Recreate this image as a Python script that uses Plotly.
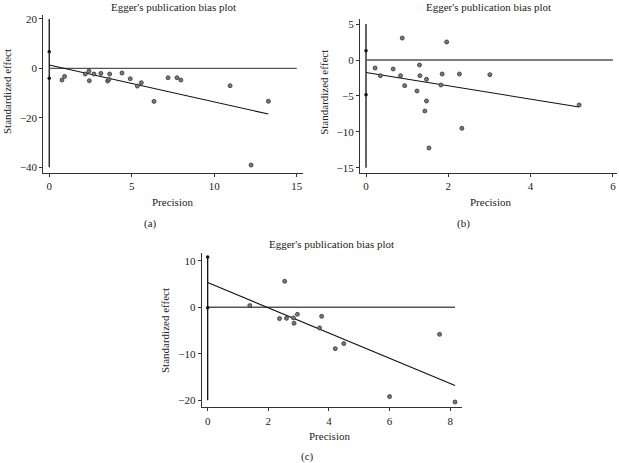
import plotly.graph_objects as go

# ---------------- data ----------------
a_prec = [0.77, 0.93, 2.18, 2.41, 2.43, 2.71, 3.13, 3.54, 3.62, 3.66, 4.41, 4.91, 5.34, 5.58, 6.35, 7.20, 7.74, 7.98, 10.96, 12.23, 13.28]
a_eff = [-4.72, -3.24, -2.29, -1.08, -4.99, -2.29, -2.02, -5.12, -4.45, -2.29, -1.89, -4.18, -7.15, -5.80, -13.35, -3.78, -3.78, -4.72, -7.0, -39.1, -13.3]
a_intercept, a_slope = 1.35, -1.493
a_ci = [-4.0, 6.7]
a_xticks = [0, 5, 10, 15]
a_yticks = [-40, -20, 0, 20]

b_prec = [0.22, 0.35, 0.66, 0.84, 0.88, 0.94, 1.24, 1.30, 1.31, 1.43, 1.47, 1.47, 1.53, 1.82, 1.85, 1.96, 2.27, 2.33, 3.01, 5.18]
b_eff = [-1.11, -2.18, -1.25, -2.18, 3.06, -3.57, -4.32, -0.70, -2.18, -7.10, -2.69, -5.71, -12.25, -3.48, -1.95, 2.51, -1.95, -9.51, -2.04, -6.26]
b_intercept, b_slope = -1.75, -0.925
b_ci = [-4.83, 1.3]
b_xticks = [0, 2, 4, 6]
b_yticks = [-15, -10, -5, 0, 5]

c_prec = [1.39, 2.37, 2.54, 2.60, 2.83, 2.85, 2.96, 3.69, 3.76, 4.21, 4.49, 6.00, 7.65, 8.16]
c_eff = [0.36, -2.44, 5.59, -2.37, -2.29, -3.44, -1.51, -4.44, -1.94, -8.89, -7.81, -19.2, -5.81, -20.36]
c_intercept, c_slope = 5.3, -2.71
c_ci = [-0.1, 10.8]
c_xticks = [0, 2, 4, 6, 8]
c_yticks = [-20, -10, 0, 10]

title_text = "Egger's publication bias plot"
xlab = "Precision"
ylab = "Standardized effect"
panel_labels = ["(a)", "(b)", "(c)"]

W, H = 619, 463
FONT = "Liberation Serif"

fig = go.Figure()

panels = [
    dict(prec=a_prec, eff=a_eff, b0=a_intercept, b1=a_slope, ci=a_ci, xt=a_xticks, yt=a_yticks,
         xr=[-0.36, 15.36], yr=[-42.2, 21.6], hline_end=15,
         dom_px=(43.3, 302.7, 15.0, 172.7), xa="x", ya="y"),
    dict(prec=b_prec, eff=b_eff, b0=b_intercept, b1=b_slope, ci=b_ci, xt=b_xticks, yt=b_yticks,
         xr=[-0.146, 6.1], yr=[-15.7, 5.67], hline_end=6,
         dom_px=(360.0, 617.0, 19.3, 172.7), xa="x2", ya="y2"),
    dict(prec=c_prec, eff=c_eff, b0=c_intercept, b1=c_slope, ci=c_ci, xt=c_xticks, yt=c_yticks,
         xr=[-0.197, 8.38], yr=[-21.5, 11.6], hline_end=max(c_prec),
         dom_px=(201.7, 461.7, 253.3, 407.3), xa="x3", ya="y3"),
]

for i, p in enumerate(panels):
    xa, ya = p["xa"], p["ya"]
    ymin = min(min(p["yt"]), p["ci"][0])
    ymax = max(max(p["yt"]), p["ci"][1])
    # vertical line at precision 0
    fig.add_trace(go.Scatter(x=[0, 0], y=[ymin, ymax], mode="lines",
                             line=dict(color="#111", width=1.3), xaxis=xa, yaxis=ya, hoverinfo="skip"))
    # horizontal zero line
    fig.add_trace(go.Scatter(x=[0, p["hline_end"]], y=[0, 0], mode="lines",
                             line=dict(color="#555", width=1.3), xaxis=xa, yaxis=ya, hoverinfo="skip"))
    # regression line
    xmax = max(p["prec"])
    fig.add_trace(go.Scatter(x=[0, xmax], y=[p["b0"], p["b0"] + p["b1"] * xmax], mode="lines",
                             line=dict(color="#111", width=1.1), xaxis=xa, yaxis=ya, hoverinfo="skip"))
    # CI markers
    fig.add_trace(go.Scatter(x=[0, 0], y=p["ci"], mode="markers",
                             marker=dict(size=3.5, color="#111"), xaxis=xa, yaxis=ya, hoverinfo="skip"))
    # data points
    fig.add_trace(go.Scatter(x=p["prec"], y=p["eff"], mode="markers",
                             marker=dict(size=4, color="#777", line=dict(color="#333", width=0.8)),
                             xaxis=xa, yaxis=ya))

    l, r, t, b = p["dom_px"]
    axfont = dict(family=FONT, size=11, color="#222")
    xkey = "xaxis" if i == 0 else f"xaxis{i+1}"
    ykey = "yaxis" if i == 0 else f"yaxis{i+1}"
    common = dict(ticks="outside", ticklen=3, tickcolor="#333", showline=True, linecolor="#333",
                  linewidth=1, showgrid=False, zeroline=False, tickfont=axfont, fixedrange=True,
                  automargin=False, ticklabeloverflow="allow")
    fig.update_layout(**{
        xkey: dict(domain=[l / W, r / W], range=p["xr"], tickvals=p["xt"], anchor=ya, **common),
        ykey: dict(domain=[1 - b / H, 1 - t / H], range=p["yr"], tickvals=p["yt"], anchor=xa, **common),
    })

ann = []
def add_text(text, px, py, size, angle=0):
    ann.append(dict(text=text, x=px / W, y=1 - py / H, xref="paper", yref="paper", showarrow=False,
                    xanchor="center", yanchor="middle", textangle=angle,
                    font=dict(family=FONT, size=size, color="#222")))

# titles
add_text(title_text, 173, 6.5, 11)
add_text(title_text, 488.5, 6.5, 11)
add_text(title_text, 331.7, 244, 11)
# y-axis titles
add_text(ylab, 7, 92, 11, -90)
add_text(ylab, 323.3, 92.5, 11, -90)
add_text(ylab, 165, 331, 11, -90)
# x-axis titles
add_text(xlab, 172.7, 201.7, 11)
add_text(xlab, 490, 201.7, 11)
add_text(xlab, 329, 435.7, 11)
# panel labels
add_text(panel_labels[0], 150, 223.3, 11)
add_text(panel_labels[1], 463, 223.3, 11)
add_text(panel_labels[2], 307.7, 456, 11)

fig.update_layout(template="none", width=W, height=H, margin=dict(l=0, r=0, t=0, b=0, pad=0),
                  paper_bgcolor="white", plot_bgcolor="white", showlegend=False,
                  annotations=ann, hovermode=False)

fig.write_html("out.html",
               config={"displayModeBar": False, "staticPlot": True},
               post_script="document.body.style.margin='0';document.body.style.padding='0';"
                           "document.body.style.overflow='hidden';")
